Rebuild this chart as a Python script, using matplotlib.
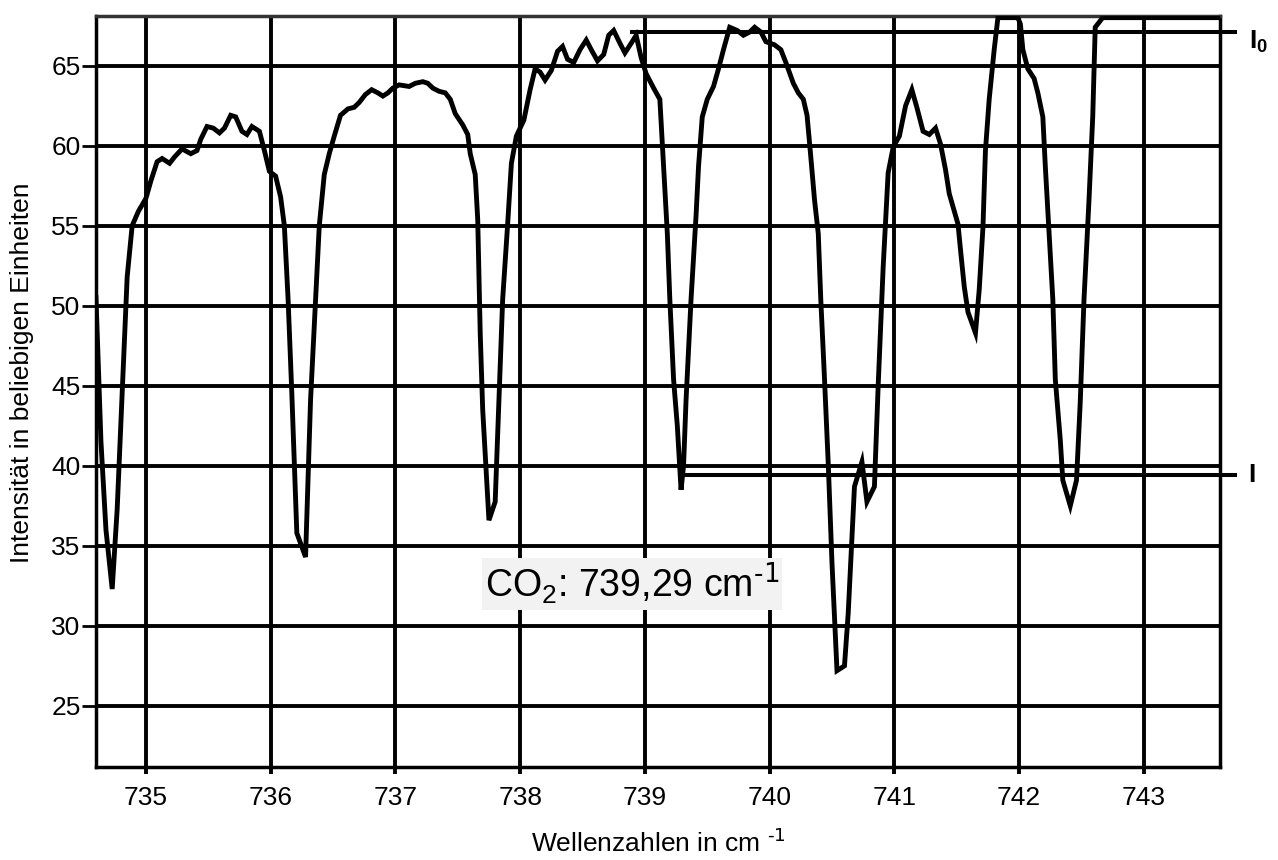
import matplotlib
matplotlib.use("Agg")
import matplotlib.pyplot as plt

plt.rcParams['font.family'] = ['Liberation Sans', 'DejaVu Sans']
plt.rcParams['mathtext.default'] = 'regular'

# Spektrum
wellenzahl = [
    734.60, 734.64, 734.68, 734.73, 734.77, 734.81, 734.85, 734.89, 734.94, 735.00,
    735.04, 735.09, 735.13, 735.19, 735.23, 735.29, 735.36, 735.41, 735.44, 735.49,
    735.54, 735.59, 735.63, 735.68, 735.72, 735.77, 735.81, 735.85, 735.91, 735.95,
    735.99, 736.04, 736.08, 736.11, 736.14, 736.17, 736.21, 736.28, 736.32, 736.36,
    736.39, 736.43, 736.47, 736.51, 736.56, 736.62, 736.67, 736.71, 736.76, 736.81,
    736.86, 736.90, 736.94, 736.98, 737.03, 737.11, 737.16, 737.22, 737.26, 737.30,
    737.35, 737.40, 737.44, 737.48, 737.54, 737.58, 737.60, 737.64, 737.66, 737.68,
    737.70, 737.75, 737.80, 737.83, 737.86, 737.90, 737.93, 737.97, 738.03, 738.08,
    738.12, 738.16, 738.20, 738.25, 738.30, 738.34, 738.38, 738.43, 738.48, 738.53,
    738.57, 738.62, 738.67, 738.71, 738.75, 738.80, 738.84, 738.89, 738.93, 738.97,
    739.01, 739.07, 739.12, 739.15, 739.18, 739.20, 739.23, 739.26, 739.29, 739.31,
    739.33, 739.37, 739.41, 739.43, 739.46, 739.50, 739.55, 739.59, 739.63, 739.68,
    739.74, 739.79, 739.84, 739.88, 739.93, 739.97, 740.04, 740.09, 740.13, 740.19,
    740.23, 740.27, 740.30, 740.33, 740.36, 740.39, 740.41, 740.44, 740.47, 740.50,
    740.54, 740.60, 740.63, 740.68, 740.74, 740.78, 740.84, 740.87, 740.91, 740.95,
    740.99, 741.04, 741.09, 741.14, 741.18, 741.23, 741.28, 741.33, 741.37, 741.41,
    741.44, 741.51, 741.53, 741.56, 741.59, 741.65, 741.68, 741.71, 741.73, 741.76,
    741.80, 741.83, 741.90, 741.99, 742.01, 742.03, 742.07, 742.12, 742.15, 742.19,
    742.21, 742.24, 742.27, 742.29, 742.33, 742.35, 742.41, 742.46, 742.49, 742.52,
    742.56, 742.59, 742.61, 742.67, 742.80, 743.20, 743.65,
]
intensitaet = [
    50.5, 41.5, 36.0, 32.3, 37.3, 44.5, 51.8, 55.0, 55.9, 56.7,
    57.8, 59.0, 59.2, 58.9, 59.3, 59.8, 59.5, 59.7, 60.4, 61.2,
    61.1, 60.8, 61.1, 61.9, 61.8, 60.9, 60.7, 61.2, 60.9, 59.7,
    58.4, 58.1, 56.8, 55.0, 50.4, 44.5, 35.8, 34.3, 44.1, 50.4,
    55.0, 58.2, 59.5, 60.6, 61.9, 62.3, 62.4, 62.7, 63.2, 63.5,
    63.3, 63.1, 63.3, 63.6, 63.8, 63.7, 63.9, 64.0, 63.9, 63.6,
    63.4, 63.3, 62.9, 62.0, 61.3, 60.7, 59.5, 58.2, 55.4, 48.3,
    43.5, 36.6, 37.75, 44.1, 50.4, 55.1, 58.9, 60.6, 61.6, 63.5,
    64.8, 64.6, 64.1, 64.7, 65.9, 66.2, 65.4, 65.2, 66.0, 66.6,
    66.0, 65.3, 65.7, 66.9, 67.2, 66.4, 65.8, 66.4, 66.9, 65.5,
    64.5, 63.6, 62.9, 58.7, 54.5, 50.4, 45.4, 42.5, 38.5, 40.0,
    44.1, 50.4, 55.6, 58.7, 61.8, 62.9, 63.7, 64.8, 66.0, 67.4,
    67.2, 66.9, 67.1, 67.4, 67.1, 66.5, 66.3, 66.0, 65.2, 63.9,
    63.3, 62.9, 61.9, 59.3, 56.6, 54.5, 50.4, 45.4, 40.1, 33.9,
    27.2, 27.5, 30.8, 38.7, 40.25, 37.75, 38.7, 45.0, 52.4, 58.3,
    59.9, 60.6, 62.5, 63.5, 62.4, 60.9, 60.7, 61.1, 60.1, 58.5,
    57.0, 55.1, 53.5, 51.2, 49.6, 48.3, 51.0, 54.9, 59.7, 62.9,
    66.0, 68.0, 68.0, 68.0, 67.6, 66.0, 64.8, 64.2, 63.3, 61.8,
    58.7, 54.5, 50.4, 45.4, 41.6, 39.1, 37.5, 39.1, 44.0, 50.4,
    56.6, 61.8, 67.4, 68.0, 68.0, 68.0, 68.0,
]

x_ticks = [735, 736, 737, 738, 739, 740, 741, 742, 743]
y_ticks = [25, 30, 35, 40, 45, 50, 55, 60, 65]

i0_wert = 67.1
i0_start = 738.9
i_wert = 39.4
i_start = 739.3
linien_ende = 743.73

fig = plt.figure(figsize=(12.78, 8.60), dpi=100)
ax = fig.add_axes([0.0751, 0.1085, 0.8795, 0.8732])

ax.set_xlim(734.6, 743.61)
ax.set_ylim(21.2, 68.12)
ax.set_xticks(x_ticks)
ax.set_yticks(y_ticks)
ax.grid(True, color='black', linewidth=2.8)
ax.set_axisbelow(True)

ax.plot(wellenzahl, intensitaet, color='black', linewidth=3.5, solid_joinstyle='miter', zorder=3)

# I0 und I Linien
ax.plot([i0_start, linien_ende], [i0_wert, i0_wert], color='black', linewidth=2.9, clip_on=False, zorder=3)
ax.plot([i_start, linien_ende], [i_wert, i_wert], color='black', linewidth=2.9, clip_on=False, zorder=3)
ax.text(743.84, 66.5, 'I$_0$', fontsize=19, fontweight='bold', va='center', ha='left')
ax.text(743.84, i_wert, 'I', fontsize=19, fontweight='bold', va='center', ha='left')

ax.text(737.72, 32.6, 'CO$_2$: 739,29 cm$^{\\text{-1}}$', fontsize=27, va='center', ha='left',
        bbox=dict(boxstyle='square,pad=0.08', facecolor='#f2f2f2', edgecolor='none'), zorder=4)

for s in ax.spines.values():
    s.set_linewidth(2.5)
    s.set_color('black')
ax.spines['top'].set_color('#333333')

ax.tick_params(axis='x', direction='out', length=5, width=2.8, labelsize=19, pad=9)
ax.tick_params(axis='y', direction='out', length=10, width=2.0, labelsize=19, pad=1)

ax.set_xlabel('Wellenzahlen in cm $^{\\text{-1}}$', fontsize=19, labelpad=14)
ax.set_ylabel('Intensität in beliebigen Einheiten', fontsize=19)
ax.yaxis.set_label_coords(-0.055, 0.524)

fig.savefig('out.png', dpi=100)
